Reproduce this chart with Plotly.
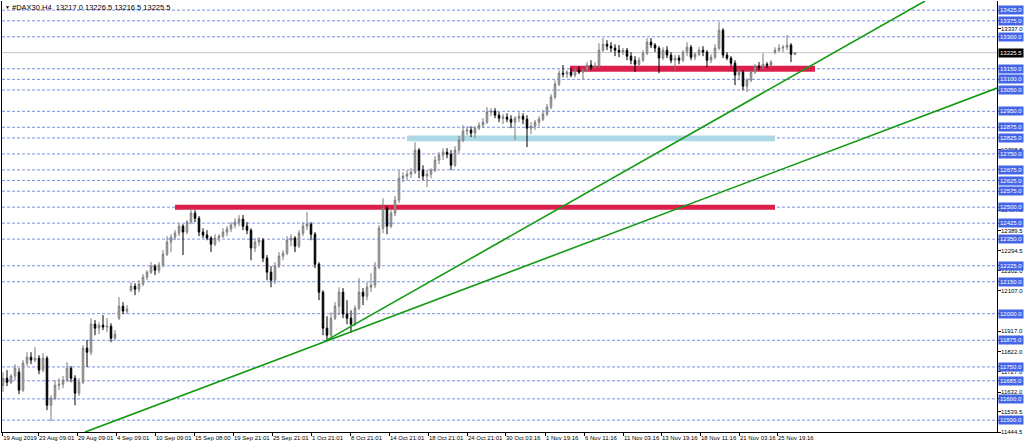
import plotly.graph_objects as go

# ---------------- data ----------------
opens = [11664, 11697, 11678, 11707, 11725, 11641, 11768, 11796, 11782, 11791,
         11735, 11791, 11570, 11603, 11664, 11669, 11688, 11744, 11697, 11627,
         11678, 11838, 11819, 11951, 11932, 11946, 11937, 11941, 11885, 11979,
         12035, 12012, 12110, 12129, 12115, 12139, 12171, 12195, 12223, 12204,
         12228, 12279, 12336, 12359, 12378, 12411, 12383, 12430, 12472, 12448,
         12383, 12369, 12355, 12326, 12355, 12364, 12383, 12397, 12416, 12430,
         12444, 12411, 12392, 12308, 12336, 12345, 12261, 12195, 12157, 12223,
         12270, 12284, 12345, 12355, 12317, 12378, 12411, 12420, 12373, 12232,
         12101, 11932, 11899, 11979, 12035, 12101, 11998, 11979, 11951, 12026,
         12101, 12082, 12124, 12134, 12218, 12401, 12495, 12411, 12472, 12533,
         12636, 12646, 12655, 12664, 12768, 12674, 12646, 12655, 12674, 12721,
         12744, 12758, 12749, 12697, 12768, 12815, 12857, 12862, 12848, 12871,
         12885, 12899, 12946, 12951, 12932, 12918, 12923, 12913, 12899, 12918,
         12927, 12913, 12871, 12880, 12899, 12913, 12937, 12970, 13017, 13078,
         13129, 13125, 13134, 13120, 13143, 13134, 13143, 13167, 13157, 13162,
         13237, 13265, 13256, 13247, 13237, 13228, 13237, 13209, 13190, 13171,
         13190, 13223, 13275, 13261, 13247, 13200, 13237, 13214, 13190, 13200,
         13190, 13228, 13251, 13204, 13218, 13237, 13228, 13190, 13204, 13247,
         13331, 13214, 13200, 13176, 13120, 13134, 13068, 13096, 13134, 13162,
         13157, 13171, 13167, 13228, 13237, 13247, 13251, 13261, 13217.0]

highs = [11725, 11735, 11716, 11763, 11744, 11782, 11819, 11819, 11843, 11805,
         11815, 11801, 11617, 11688, 11697, 11707, 11772, 11754, 11711, 11697,
         11852, 11876, 11979, 11970, 11960, 11993, 11979, 11955, 11923, 12078,
         12054, 12040, 12148, 12143, 12157, 12186, 12204, 12242, 12232, 12242,
         12298, 12364, 12373, 12392, 12425, 12420, 12439, 12495, 12486, 12458,
         12401, 12392, 12364, 12373, 12373, 12401, 12411, 12430, 12448, 12463,
         12463, 12430, 12401, 12355, 12359, 12355, 12275, 12223, 12242, 12289,
         12298, 12364, 12373, 12364, 12392, 12430, 12477, 12430, 12383, 12242,
         12110, 11988, 12007, 12054, 12124, 12120, 12063, 12016, 12040, 12167,
         12120, 12148, 12190, 12242, 12416, 12542, 12505, 12486, 12552, 12674,
         12664, 12674, 12683, 12805, 12777, 12697, 12674, 12683, 12740, 12758,
         12777, 12777, 12768, 12787, 12834, 12885, 12880, 12880, 12880, 12899,
         12918, 12970, 12965, 12965, 12946, 12937, 12941, 12932, 12927, 12946,
         12941, 12932, 12899, 12909, 12927, 12956, 12984, 13031, 13096, 13143,
         13167, 13143, 13153, 13157, 13162, 13153, 13181, 13190, 13181, 13270,
         13294, 13284, 13275, 13265, 13261, 13247, 13247, 13228, 13209, 13204,
         13237, 13294, 13294, 13270, 13256, 13251, 13256, 13228, 13214, 13214,
         13237, 13275, 13261, 13228, 13251, 13256, 13237, 13218, 13265, 13369,
         13340, 13228, 13209, 13190, 13153, 13143, 13106, 13143, 13171, 13181,
         13223, 13181, 13190, 13251, 13265, 13261, 13308, 13270, 13226.5]

lows = [11632, 11660, 11669, 11688, 11622, 11632, 11754, 11763, 11772, 11716,
        11725, 11547, 11495, 11594, 11641, 11650, 11678, 11678, 11570, 11613,
        11669, 11749, 11805, 11899, 11904, 11923, 11913, 11866, 11876, 11970,
        11998, 11998, 12101, 12087, 12101, 12129, 12157, 12186, 12181, 12190,
        12218, 12270, 12289, 12345, 12364, 12275, 12373, 12420, 12430, 12364,
        12355, 12345, 12289, 12317, 12336, 12355, 12364, 12383, 12401, 12411,
        12392, 12373, 12251, 12289, 12317, 12242, 12157, 12124, 12139, 12214,
        12251, 12275, 12317, 12289, 12308, 12364, 12392, 12345, 12214, 12063,
        11899, 11871, 11885, 11970, 11993, 11979, 11951, 11909, 11941, 12016,
        12040, 12063, 12101, 12120, 12209, 12378, 12373, 12401, 12458, 12519,
        12617, 12627, 12636, 12655, 12636, 12627, 12594, 12636, 12664, 12702,
        12721, 12730, 12674, 12688, 12754, 12805, 12838, 12829, 12824, 12862,
        12871, 12890, 12927, 12918, 12899, 12890, 12899, 12871, 12815, 12899,
        12890, 12782, 12843, 12862, 12880, 12904, 12927, 12960, 13007, 13068,
        13110, 13106, 13110, 13110, 13125, 13101, 13134, 13143, 13148, 13153,
        13228, 13237, 13228, 13209, 13204, 13214, 13190, 13171, 13134, 13157,
        13181, 13214, 13247, 13228, 13129, 13190, 13200, 13176, 13143, 13171,
        13181, 13209, 13190, 13190, 13209, 13209, 13157, 13176, 13195, 13237,
        13200, 13190, 13162, 13073, 13096, 13049, 13040, 13087, 13125, 13143,
        13143, 13153, 13157, 13218, 13228, 13228, 13237, 13181, 13216.5]

closes = [11697, 11678, 11707, 11744, 11641, 11768, 11796, 11782, 11791, 11735,
          11791, 11570, 11603, 11664, 11669, 11688, 11744, 11697, 11627, 11678,
          11838, 11819, 11951, 11932, 11946, 11937, 11941, 11885, 11904, 12035,
          12012, 12021, 12129, 12115, 12139, 12171, 12195, 12223, 12204, 12228,
          12279, 12336, 12359, 12378, 12411, 12383, 12430, 12472, 12448, 12383,
          12369, 12355, 12326, 12355, 12364, 12383, 12397, 12416, 12430, 12444,
          12411, 12392, 12308, 12336, 12345, 12261, 12195, 12157, 12223, 12270,
          12284, 12345, 12355, 12317, 12378, 12411, 12420, 12373, 12232, 12101,
          11932, 11899, 11979, 12035, 12101, 11998, 11979, 11951, 12026, 12101,
          12082, 12124, 12134, 12218, 12401, 12495, 12411, 12472, 12533, 12636,
          12646, 12655, 12664, 12768, 12674, 12646, 12655, 12674, 12721, 12744,
          12758, 12749, 12697, 12768, 12815, 12857, 12862, 12848, 12871, 12885,
          12899, 12946, 12951, 12932, 12918, 12923, 12913, 12899, 12918, 12927,
          12913, 12871, 12880, 12899, 12913, 12937, 12970, 13017, 13078, 13129,
          13125, 13134, 13120, 13143, 13134, 13143, 13167, 13157, 13162, 13237,
          13265, 13256, 13247, 13237, 13228, 13237, 13209, 13190, 13171, 13190,
          13223, 13275, 13261, 13247, 13200, 13237, 13214, 13190, 13200, 13190,
          13228, 13251, 13204, 13218, 13237, 13228, 13190, 13204, 13247, 13331,
          13214, 13200, 13176, 13120, 13134, 13068, 13096, 13134, 13162, 13157,
          13171, 13167, 13181, 13237, 13247, 13251, 13261, 13218, 13225.5]

bar_index = list(range(len(closes)))

time_labels = ["19 Aug 2019", "23 Aug 09:01", "29 Aug 09:01", "4 Sep 09:01", "10 Sep 09:01",
               "15 Sep 08:00", "19 Sep 21:01", "25 Sep 21:01", "1 Oct 21:01", "8 Oct 21:01",
               "14 Oct 21:01", "18 Oct 21:01", "24 Oct 21:01", "30 Oct 03:16", "1 Nov 19:16",
               "6 Nov 11:16", "11 Nov 03:16", "13 Nov 19:16", "18 Nov 11:16", "21 Nov 03:16",
               "25 Nov 19:16"]
time_label_bars = [-0.2, 8.75, 18.5, 28.25, 38, 47.75, 57.5, 67.25, 77, 86.75, 96.5,
                   106.25, 116, 125.5, 135.5, 145.25, 155, 164.5, 174.25, 184, 193.5]

level_prices = [13425, 13375, 13300, 13150, 13100, 13050, 12950, 12875, 12825, 12750,
                12675, 12625, 12575, 12500, 12425, 12350, 12225, 12150, 12000, 11875,
                11750, 11685, 11600, 11500]
scale_prices = [13337.0, 12768.5, 12484.5, 12389.5, 12294.5, 12202.0, 12107.0, 11917.0,
                11822.0, 11727.0, 11632.0, 11539.5, 11444.5]

symbol = "#DAX30,H4"
last_bar = [13217.0, 13226.5, 13216.5, 13225.5]
bid_price = 13225.5

# zones: (start bar, end bar, low price, high price)
zone_start = [141.75, 43, 101]
zone_end = [203, 193, 193]
zone_low = [13136, 12488, 12810]
zone_high = [13164, 12512, 12836]

# trend lines: (bar, price) pairs
trend_a_bars = [80.5, 230.5]
trend_a_prices = [11871, 13468]
trend_b_bars = [20.5, 248.5]
trend_b_prices = [11444, 13059]

y_range = [11444.5, 13468.0]
x_range = [-0.25, 248.5]

# ---------------- styling ----------------
FONT = "Liberation Sans"
LEVEL_COLOR = "#7d8fe6"
BOX_COLOR = "#4466e6"
ZONE_COLORS = ["#dc1e4b", "#dc1e4b", "#add8e6"]
LABEL_SIZE = 6

fig = go.Figure()

fig.add_trace(go.Candlestick(
    x=bar_index, open=opens, high=highs, low=lows, close=closes,
    increasing=dict(line=dict(color="#7a7a7a", width=1), fillcolor="#c8c8c8"),
    decreasing=dict(line=dict(color="#000000", width=1), fillcolor="#000000"),
    whiskerwidth=0, showlegend=False, hoverinfo="skip",
))

for bx, py in ((trend_a_bars, trend_a_prices), (trend_b_bars, trend_b_prices)):
    fig.add_trace(go.Scatter(x=bx, y=py, mode="lines",
                             line=dict(color="#139a13", width=1.6),
                             showlegend=False, hoverinfo="skip"))

shapes = []
for p in level_prices:
    shapes.append(dict(type="line", xref="paper", x0=0, x1=1, yref="y", y0=p, y1=p,
                       line=dict(color=LEVEL_COLOR, width=1, dash="3px,2px"), layer="below"))
shapes.append(dict(type="line", xref="paper", x0=0, x1=1, yref="y", y0=bid_price, y1=bid_price,
                   line=dict(color="#c8c8c8", width=1), layer="below"))
for xs, xe, lo, hi, col in zip(zone_start, zone_end, zone_low, zone_high, ZONE_COLORS):
    shapes.append(dict(type="rect", xref="x", yref="y", x0=xs, x1=xe, y0=lo, y1=hi,
                       fillcolor=col, line=dict(width=0), layer="below"))

annotations = []
for p in scale_prices:
    annotations.append(dict(xref="paper", x=1, xanchor="left", xshift=2, yref="y", y=p,
                            yanchor="middle", text=f"{p:.1f}", showarrow=False,
                            font=dict(family=FONT, size=LABEL_SIZE, color="#000000")))
for p in level_prices:
    annotations.append(dict(xref="paper", x=1, xanchor="left", xshift=1, yref="y", y=p,
                            yanchor="middle", text=f"{p:.1f}", showarrow=False,
                            bgcolor=BOX_COLOR, borderpad=1,
                            font=dict(family=FONT, size=LABEL_SIZE, color="#ffffff")))
annotations.append(dict(xref="paper", x=1, xanchor="left", xshift=1, yref="y", y=bid_price,
                        yanchor="middle", text=f"{bid_price:.1f}", showarrow=False,
                        bgcolor="#000000", borderpad=1,
                        font=dict(family=FONT, size=LABEL_SIZE, color="#ffffff")))
title_text = symbol + "  " + " ".join(f"{v:.1f}" for v in last_bar)
annotations.append(dict(xref="paper", x=0, xanchor="left", xshift=8, yref="paper", y=1,
                        yanchor="middle", yshift=-6, text=title_text, showarrow=False,
                        font=dict(family=FONT, size=7.5, color="#000000")))
annotations.append(dict(xref="paper", x=0, xanchor="left", xshift=1, yref="paper", y=1,
                        yanchor="middle", yshift=-6, text="▼", showarrow=False,
                        font=dict(family=FONT, size=5, color="#000000")))

fig.update_layout(
    width=1024, height=446,
    margin=dict(l=2, r=27, t=1, b=14),
    paper_bgcolor="#ffffff", plot_bgcolor="#ffffff",
    shapes=shapes, annotations=annotations,
    boxgap=0.45,
    font=dict(family=FONT, size=LABEL_SIZE, color="#000000"),
    xaxis=dict(range=x_range, showgrid=False, zeroline=False, rangeslider=dict(visible=False),
               tickvals=time_label_bars, ticktext=time_labels, ticks="outside", ticklen=3,
               tickcolor="#000000", ticklabelposition="outside right", tickangle=0,
               tickfont=dict(family=FONT, size=LABEL_SIZE, color="#000000"),
               showline=True, linecolor="#000000", linewidth=1),
    yaxis=dict(range=y_range, side="right", showgrid=False, zeroline=False,
               tickvals=level_prices + scale_prices, showticklabels=False,
               ticks="outside", ticklen=3, tickcolor="#000000",
               showline=True, linecolor="#000000", linewidth=1, mirror=True),
)

fig.write_html("out.html", config={"displayModeBar": False},
               post_script="document.body.style.margin='0';document.body.style.padding='0';")
